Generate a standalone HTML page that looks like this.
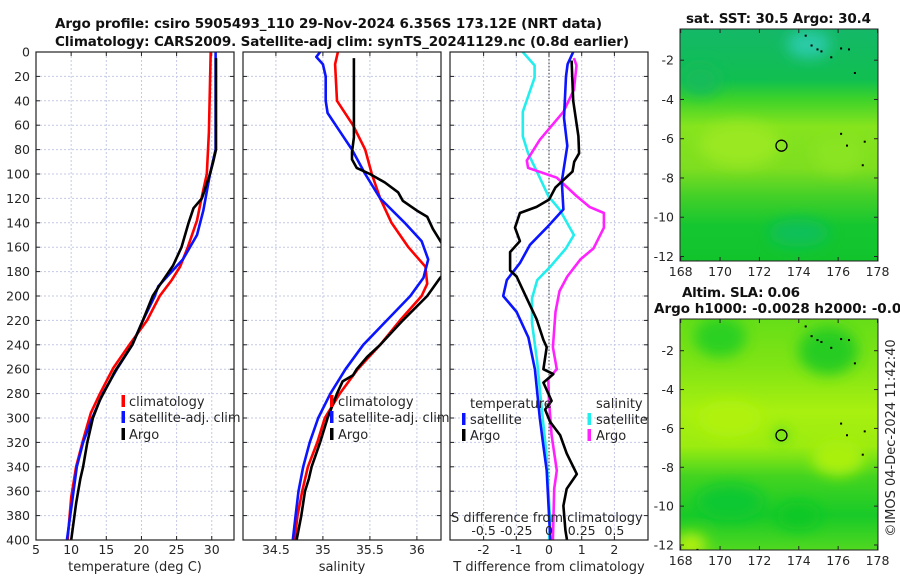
<!DOCTYPE html>
<html><head><meta charset="utf-8"><style>
html,body{margin:0;padding:0;background:#fff;}
svg{display:block;font-family:"DejaVu Sans","Liberation Sans",sans-serif;}
</style></head><body>
<svg id="fig" width="900" height="580" viewBox="0 0 900 580" xmlns="http://www.w3.org/2000/svg">
<defs>
<clipPath id="c1"><rect x="36" y="52" width="198" height="488"/></clipPath>
<clipPath id="c2"><rect x="243" y="52" width="198" height="488"/></clipPath>
<clipPath id="c3"><rect x="450" y="52" width="198" height="488"/></clipPath>
<clipPath id="cm1"><rect x="680" y="29" width="198" height="232"/></clipPath>
<clipPath id="cm2"><rect x="680" y="319" width="198" height="231"/></clipPath>
<filter id="blur" x="-50%" y="-50%" width="200%" height="200%"><feGaussianBlur stdDeviation="7"/></filter>
<linearGradient id="gsst" x1="0" y1="0" x2="0" y2="1">
<stop offset="0" stop-color="#14b868"/><stop offset="0.22" stop-color="#10bf50"/>
<stop offset="0.3" stop-color="#3cd22a"/><stop offset="0.42" stop-color="#86e41e"/>
<stop offset="0.6" stop-color="#7ede20"/><stop offset="0.72" stop-color="#44d028"/>
<stop offset="0.85" stop-color="#14c630"/><stop offset="1" stop-color="#12c42c"/>
</linearGradient>
<linearGradient id="gsla" x1="0" y1="0" x2="0" y2="1">
<stop offset="0" stop-color="#66de18"/><stop offset="0.2" stop-color="#80e414"/>
<stop offset="0.4" stop-color="#a8f010"/><stop offset="0.55" stop-color="#9cec10"/>
<stop offset="0.68" stop-color="#44d420"/><stop offset="0.85" stop-color="#18ca28"/>
<stop offset="1" stop-color="#50d820"/>
</linearGradient>
</defs>
<g id="root"></g>
</svg>
<script>
// ---------- data ----------
var depthTicks = [0,20,40,60,80,100,120,140,160,180,200,220,240,260,280,300,320,340,360,380,400];
var tempTicks = [5,10,15,20,25,30];
var salTicks = [34.5,35,35.5,36];
var salTickLabels = ["34.5","35","35.5","36"];
var tdiffTicks = [-2,-1,0,1,2];
var sdiffTicks = [-0.5,-0.25,0,0.25,0.5];
var sdiffTickLabels = ["-0.5","-0.25","0","0.25","0.5"];

var tClimDepth = [0,66,100,121,138,160,176,187,200,220,239,259,280,296,318,340,365,400];
var tClim = [29.85,29.6,29.3,28.5,27.9,26.6,25.5,24.3,22.6,20.8,18.4,16.0,14.1,12.8,11.7,10.7,10.0,9.5];
var tSatDepth = [0,80,100,130,150,170,192,200,220,240,260,280,300,320,340,370,400];
var tSat = [30.55,30.55,29.75,28.8,27.9,25.9,22.4,21.9,20.2,18.7,16.5,14.5,13.0,11.7,10.8,10.1,9.4];
var tArgoDepth = [5,80,90,100,120,128,140,160,175,192,200,220,240,262,270,285,300,320,340,350,370,400];
var tArgo = [30.6,30.6,30.2,29.75,28.6,27.4,26.7,25.7,24.5,22.5,21.6,20.2,18.7,16.2,15.5,14.1,13.1,12.3,11.7,11.3,10.7,10.0];

var sClimDepth = [0,10,40,60,80,100,120,140,160,176,190,200,220,240,260,280,300,320,340,360,380,400];
var sClim = [35.16,35.13,35.15,35.32,35.45,35.52,35.61,35.73,35.91,36.09,36.11,36.05,35.82,35.61,35.37,35.18,35.02,34.94,34.84,34.78,34.73,34.70];
var sSatDepth = [0,4,10,20,40,50,65,80,100,120,140,155,170,185,200,220,240,260,280,300,320,340,360,380,400];
var sSat = [34.97,34.93,35.0,35.03,35.03,35.05,35.18,35.31,35.45,35.61,35.87,36.05,36.12,36.07,35.93,35.68,35.43,35.24,35.08,34.95,34.86,34.79,34.74,34.71,34.68];
var sArgoDepth = [5,70,82,88,95,100,107,115,122,130,135,145,155,165,175,187,200,220,240,250,260,265,270,280,300,320,340,350,360,380,400];
var sArgo = [35.33,35.33,35.31,35.31,35.36,35.5,35.66,35.8,35.85,36.0,36.11,36.17,36.25,36.33,36.35,36.23,36.11,35.85,35.61,35.47,35.36,35.32,35.21,35.15,35.05,34.97,34.88,34.85,34.81,34.77,34.72];

var dTSatDepth = [0,10,20,54,77,106,129,144,158,173,187,200,213,234,260,300,323,343,400];
var dTSat = [0.74,0.57,0.52,0.46,0.56,0.39,0.44,-0.07,-0.58,-0.89,-1.29,-1.4,-0.99,-0.63,-0.43,-0.28,-0.17,-0.07,0.04];
var dTArgoDepth = [7,40,69,83,90,98,111,121,127,132,144,155,164,179,184,202,219,236,242,260,264,271,286,293,303,314,329,346,358,372,392,400];
var dTArgo = [0.69,0.74,0.9,0.92,0.77,0.72,0.2,0.0,-0.38,-0.89,-1.04,-0.89,-1.19,-1.19,-0.99,-0.68,-0.38,-0.17,-0.07,-0.17,0.13,-0.17,0.08,-0.12,0.03,0.34,0.54,0.85,0.54,0.44,0.5,0.55];
var dSSatDepth = [0,11,21,49,69,83,103,118,129,150,161,176,187,202,222,254,288,329,387,400];
var dSSat = [-0.2,-0.11,-0.11,-0.2,-0.2,-0.16,-0.07,-0.005,0.08,0.19,0.13,0.01,-0.09,-0.13,-0.13,-0.09,-0.06,-0.02,0.01,0.0];
var dSArgoDepth = [5,11,31,49,72,89,95,103,118,127,132,144,161,170,184,196,213,242,260,268,286,314,343,358,400];
var dSArgo = [0.19,0.21,0.19,0.11,-0.07,-0.17,-0.16,0.06,0.21,0.31,0.42,0.42,0.34,0.24,0.14,0.08,0.05,0.03,0.06,-0.005,0.0,0.02,0.06,0.04,0.03];

var mapLonTicks = [168,170,172,174,176,178];
var mapLatTicks = [-2,-4,-6,-8,-10,-12];
var argoLon = 173.12, argoLat = -6.356;

// ---------- scales ----------
function yD(d){ return 52 + d*1.22; }
function xT(t){ return 36 + (t-5)*7.03; }
function xS(s){ return 243 + (s-34.15)*94; }
function xdT(v){ return 549 + v*32.7; }
function xdS(v){ return 549 + v*130.8; }
function mx(lon){ return 680.7 + (lon-168)*19.68; }
function my1(lat){ return 60.2 + (-2-lat)*19.63; }
function my2(lat){ return 350.7 + (-2-lat)*19.43; }

var NS = "http://www.w3.org/2000/svg";
var root = document.getElementById("root");
function mk(tag, attrs, parent){
  var e = document.createElementNS(NS, tag);
  for (var k in attrs) e.setAttribute(k, attrs[k]);
  (parent||root).appendChild(e);
  return e;
}
function txt(s, x, y, size, anchor, weight, parent){
  var t = mk("text", {x:x, y:y, "font-size":size, "text-anchor":anchor||"start", fill:"#262626", "font-weight":weight||"normal"}, parent);
  t.textContent = s;
  return t;
}

// ---------- panel frames & grids ----------
var panels = [{x:36,name:"temperature-panel"},{x:243,name:"salinity-panel"},{x:450,name:"difference-panel"}];
panels.forEach(function(p, i){
  var g = mk("g", {});
  
  
  mk("rect", {x:p.x, y:52, width:198, height:488, fill:"#fff"}, g);
  depthTicks.forEach(function(d){
    var y = yD(d);
    if (d>0 && d<400) mk("line", {x1:p.x, x2:p.x+198, y1:y, y2:y, stroke:"#c4c9e6", "stroke-width":1, "stroke-dasharray":"2,2"}, g);
    mk("line", {x1:p.x, x2:p.x+4, y1:y, y2:y, stroke:"#222"}, g);
    mk("line", {x1:p.x+194, x2:p.x+198, y1:y, y2:y, stroke:"#222"}, g);
  });
  var xs = i==0 ? tempTicks.map(xT) : i==1 ? salTicks.map(xS) : tdiffTicks.map(xdT);
  xs.forEach(function(x){
    mk("line", {x1:x, x2:x, y1:52, y2:540, stroke:"#c4c9e6", "stroke-width":1, "stroke-dasharray":"2,2"}, g);
    mk("line", {x1:x, x2:x, y1:536, y2:540, stroke:"#222"}, g);
    mk("line", {x1:x, x2:x, y1:52, y2:56, stroke:"#222"}, g);
  });
});

// y labels
depthTicks.forEach(function(d){
  var t = txt(String(d), 30, yD(d)+4.5, 12.5, "end");
  
  
});
tempTicks.forEach(function(v){
  var t = txt(String(v), xT(v), 554, 12.5, "middle");
  
  
});
salTicks.forEach(function(v, i){
  var t = txt(salTickLabels[i], xS(v), 554, 12.5, "middle");
  
  
});
tdiffTicks.forEach(function(v){
  var t = txt(String(v), xdT(v), 554, 12.5, "middle");
  
  
});

// zero line in diff panel
var z = mk("line", {x1:xdT(0), x2:xdT(0), y1:52, y2:540, stroke:"#333", "stroke-dasharray":"1.5,2"});



// ---------- series ----------
function series(depths, vals, xf, color, clip, name, w){
  var pts = depths.map(function(d, i){ return xf(vals[i]).toFixed(1)+","+yD(d).toFixed(1); }).join(" ");
  var l = mk("polyline", {points:pts, fill:"none", stroke:color, "stroke-width":w||2.6, "stroke-linejoin":"round", "clip-path":"url(#"+clip+")"});
  
  
}
series(tClimDepth, tClim, xT, "#ff0000", "c1", "temperature-climatology-line");
series(tSatDepth, tSat, xT, "#0a14ff", "c1", "temperature-satellite-line");
series(tArgoDepth, tArgo, xT, "#000", "c1", "temperature-argo-line");
series(sClimDepth, sClim, xS, "#ff0000", "c2", "salinity-climatology-line");
series(sSatDepth, sSat, xS, "#0a14ff", "c2", "salinity-satellite-line");
series(sArgoDepth, sArgo, xS, "#000", "c2", "salinity-argo-line");
series(dSSatDepth, dSSat, xdS, "#22eeee", "c3", "salinity-satellite-diff-line");
series(dSArgoDepth, dSArgo, xdS, "#ff22ff", "c3", "salinity-argo-diff-line");
series(dTSatDepth, dTSat, xdT, "#0a14ff", "c3", "temperature-satellite-diff-line");
series(dTArgoDepth, dTArgo, xdT, "#000", "c3", "temperature-argo-diff-line");

// frames on top
panels.forEach(function(p){
  var r = mk("rect", {x:p.x, y:52, width:198, height:488, fill:"none", stroke:"#222", "stroke-width":1.2});
  
  
});

// ---------- legends ----------
function legItem(mx_, tx, y, color, label, name){
  var g = mk("g", {});
  
  
  mk("rect", {x:mx_-1.5, y:y-6, width:3.5, height:12, fill:color}, g);
  txt(label, tx, y+5, 13, "start", "normal", g);
}
legItem(123, 129, 401, "#ff0000", "climatology", "legend-climatology");
legItem(123, 129, 417, "#0a14ff", "satellite-adj. clim", "legend-satellite-adj");
legItem(123, 129, 434, "#000", "Argo", "legend-argo");
legItem(331.5, 338, 401, "#ff0000", "climatology", "legend-climatology-sal");
legItem(331.5, 338, 417, "#0a14ff", "satellite-adj. clim", "legend-satellite-adj-sal");
legItem(331.5, 338, 434, "#000", "Argo", "legend-argo-sal");
var lt = txt("temperature", 470, 408, 13);  
var ls = txt("salinity", 596, 408, 13);  
legItem(463.5, 470, 419, "#0a14ff", "satellite", "legend-t-satellite");
legItem(463.5, 470, 435, "#000", "Argo", "legend-t-argo");
legItem(589, 596, 419, "#22eeee", "satellite", "legend-s-satellite");
legItem(589, 596, 435, "#ff22ff", "Argo", "legend-s-argo");

var sdl = txt("S difference from climatology", 451, 522, 13);
 
sdiffTicks.forEach(function(v, i){
  var t = txt(sdiffTickLabels[i], xdS(v), 535, 12.5, "middle");
  
  
});

// axis titles
[["temperature (deg C)",135,"temperature-axis-title"],["salinity",342,"salinity-axis-title"],["T difference from climatology",549,"t-difference-axis-title"]].forEach(function(a){
  var t = txt(a[0], a[1], 571, 13, "middle");
  
  
});

// titles
var t1 = txt("Argo profile: csiro 5905493_110 29-Nov-2024 6.356S 173.12E (NRT data)", 55, 28, 13.5, "start", "bold");
t1.setAttribute("textLength", 547); t1.setAttribute("fill","#111");
 
var t2 = txt("Climatology: CARS2009. Satellite-adj clim: synTS_20241129.nc (0.8d earlier)", 55, 46, 13.5, "start", "bold");
t2.setAttribute("textLength", 574); t2.setAttribute("fill","#111");
 

// ---------- maps ----------
function mapPanel(clip, y0, h, grad, myf, name, blobs){
  var g = mk("g", {});
  
  
  var inner = mk("g", {"clip-path":"url(#"+clip+")"}, g);
  mk("rect", {x:680, y:y0, width:198, height:h, fill:"url(#"+grad+")"}, inner);
  var bg = mk("g", {filter:"url(#blur)"}, inner);
  blobs.forEach(function(b){
    mk("ellipse", {cx:mx(b[0]), cy:myf(b[1]), rx:b[2], ry:b[3], fill:b[4]}, bg);
  });
  // coastline specks
  [[174.3,-0.7],[174.6,-1.2],[174.9,-1.4],[175.1,-1.5],[175.6,-1.8],[176.1,-1.35],[176.5,-1.4],[176.8,-2.6],[176.1,-5.7],[176.4,-6.3],[177.3,-6.1],[177.2,-7.3],[168.8,-12.2]].forEach(function(c){
    mk("rect", {x:mx(c[0]), y:myf(c[1]), width:2, height:2, fill:"#000"}, inner);
  });
  mk("circle", {cx:mx(argoLon), cy:myf(argoLat), r:5.5, fill:"none", stroke:"#000", "stroke-width":1.3}, inner);
  mk("rect", {x:680, y:y0, width:198, height:h, fill:"none", stroke:"#222", "stroke-width":1}, g);
  mapLatTicks.forEach(function(v){
    var y = myf(v);
    mk("line", {x1:680, x2:684, y1:y, y2:y, stroke:"#222"}, g);
    mk("line", {x1:874, x2:878, y1:y, y2:y, stroke:"#222"}, g);
    var t = txt(String(v), 674, y+4.5, 12.5, "end", "normal", g);
    
    
  });
  mapLonTicks.forEach(function(v){
    var x = mx(v);
    mk("line", {x1:x, x2:x, y1:y0+h-4, y2:y0+h, stroke:"#222"}, g);
    mk("line", {x1:x, x2:x, y1:y0, y2:y0+4, stroke:"#222"}, g);
    var t = txt(String(v), x, y0+h+15, 12.5, "middle", "normal", g);
    
    
  });
}
mapPanel("cm1", 29, 232, "gsst", my1, "sst-map", [
  [174.5,-1.2,22,14,"#2ccaa8"],[171,-6.3,40,22,"#9ae820"],[176,-6.8,25,18,"#8ae422"],
  [174,-10.8,30,14,"#10c058"],[169,-3,20,16,"#12bc5a"]]);
mapPanel("cm2", 319, 231, "gsla", my2, "sla-map", [
  [170,-1.3,26,20,"#2ad020"],[175.5,-2,30,24,"#26cc22"],[170.5,-5.5,32,18,"#b0f20c"],
  [176,-7.5,26,18,"#aaf010"],[170.5,-9.8,34,18,"#10c830"],[174,-10.5,22,14,"#0cc828"],
  [168.5,-12,16,12,"#b4f010"],[173.1,-6.35,6,6,"#30d228"]]);

var m1 = txt("sat. SST: 30.5 Argo: 30.4", 686, 23, 13.5, "start", "bold");
m1.setAttribute("textLength", 185); m1.setAttribute("fill","#111");
 
var m2 = txt("Altim. SLA: 0.06", 682, 297, 13.5, "start", "bold");
m2.setAttribute("textLength", 118); m2.setAttribute("fill","#111");
 
var m3 = txt("Argo h1000: -0.0028 h2000: -0.0251", 654, 313, 13.5, "start", "bold");
m3.setAttribute("fill","#111");
 

var cr = txt("©IMOS 04-Dec-2024 11:42:40", 0, 0, 13, "middle");
cr.setAttribute("transform", "translate(895,438) rotate(-90)");
 
</script>
</body></html>
